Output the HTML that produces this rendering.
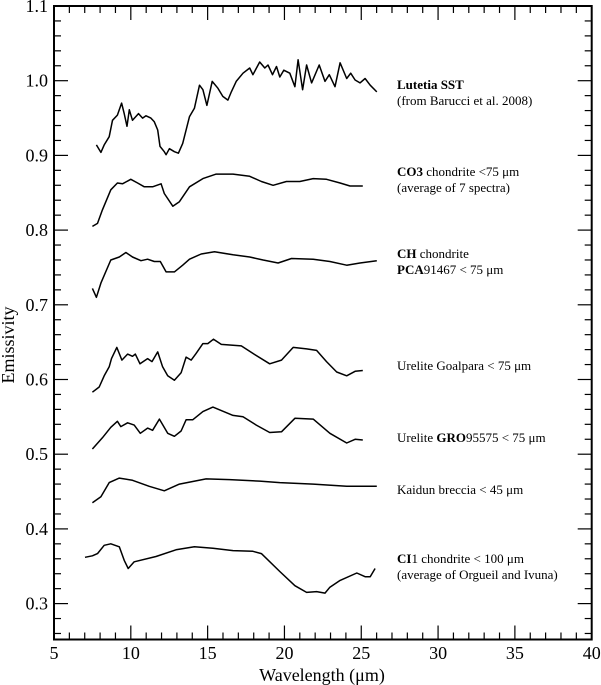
<!DOCTYPE html>
<html><head><meta charset="utf-8">
<style>
html,body{margin:0;padding:0;background:#fff;}
svg{display:block;font-family:"Liberation Serif",serif;}
</style></head>
<body>
<svg id="chart" width="601" height="685" viewBox="0 0 601 685" xmlns="http://www.w3.org/2000/svg"></svg>
<script>
const xTicks = [5,10,15,20,25,30,35,40];
const yTicks = [0.3,0.4,0.5,0.6,0.7,0.8,0.9,1.0,1.1];
const yTickLabels = ["0.3","0.4","0.5","0.6","0.7","0.8","0.9","1.0","1.1"];

const lutetiaW = [7.76,8.05,8.27,8.59,8.81,9.13,9.40,9.57,9.75,9.90,10.11,10.5,10.77,10.99,11.31,11.53,11.75,11.9,12.18,12.3,12.51,12.84,13.1,13.38,13.82,14.14,14.47,14.69,14.95,15.3,15.67,15.99,16.32,16.54,16.86,17.3,17.74,17.95,18.39,18.72,18.93,19.22,19.48,19.7,19.96,20.35,20.68,20.89,21.18,21.44,21.77,22.26,22.64,22.92,23.29,23.62,24.05,24.31,24.6,24.92,25.25,25.58,26.01];
const lutetiaE = [0.914,0.904,0.914,0.925,0.947,0.954,0.970,0.956,0.939,0.961,0.947,0.956,0.950,0.953,0.950,0.945,0.934,0.912,0.905,0.901,0.909,0.905,0.903,0.916,0.952,0.963,0.994,0.988,0.967,0.999,0.990,0.979,0.974,0.985,0.999,1.010,1.017,1.008,1.025,1.017,1.021,1.008,1.019,1.005,1.014,1.010,0.992,1.028,0.988,1.021,0.997,1.021,0.999,1.008,0.992,1.024,1.003,1.010,1.001,0.997,1.003,0.994,0.985];

const co3W = [7.5,7.83,8.15,8.7,9.13,9.46,10.0,10.44,10.88,11.42,11.97,12.18,12.73,13.16,13.82,14.69,15.56,16.65,17.74,18.5,19.26,20.13,21.0,21.87,22.74,23.62,24.27,25.1];
const co3E = [0.805,0.809,0.827,0.854,0.863,0.862,0.868,0.863,0.858,0.858,0.862,0.849,0.832,0.838,0.858,0.869,0.875,0.875,0.872,0.865,0.860,0.865,0.865,0.869,0.868,0.863,0.859,0.859];

const chW = [7.5,7.76,8.05,8.7,9.25,9.68,10.11,10.66,11.09,11.53,11.92,12.3,12.84,13.38,13.82,14.58,15.45,16.65,17.74,18.61,19.59,20.46,21.87,22.96,24.05,24.92,26.01];
const chE = [0.722,0.710,0.729,0.760,0.764,0.770,0.764,0.759,0.761,0.758,0.758,0.744,0.744,0.753,0.761,0.768,0.771,0.767,0.764,0.760,0.756,0.762,0.761,0.758,0.753,0.756,0.759];

const goalW = [7.5,7.94,8.27,8.59,8.74,9.09,9.42,9.79,10.11,10.29,10.6,11.09,11.38,11.75,12.07,12.4,12.84,13.27,13.6,13.93,14.25,14.69,15.01,15.38,15.89,17.19,17.95,19.04,19.81,20.57,21.44,22.09,22.74,23.4,24.05,24.6,25.1];
const goalE = [0.583,0.590,0.605,0.617,0.628,0.643,0.626,0.634,0.631,0.634,0.621,0.628,0.624,0.637,0.617,0.605,0.599,0.609,0.630,0.626,0.635,0.648,0.648,0.654,0.647,0.645,0.635,0.621,0.626,0.643,0.641,0.639,0.624,0.610,0.605,0.611,0.612];

const groW = [7.5,8.15,8.7,9.13,9.35,9.79,10.22,10.62,11.09,11.42,11.86,12.4,12.84,13.27,13.6,14.03,14.69,15.34,16.65,17.3,18.17,19.04,19.81,20.68,21.87,22.96,24.05,24.6,25.1];
const groE = [0.507,0.522,0.536,0.544,0.537,0.542,0.539,0.528,0.535,0.532,0.547,0.528,0.524,0.531,0.546,0.546,0.557,0.563,0.552,0.550,0.539,0.529,0.530,0.548,0.547,0.528,0.515,0.520,0.519];

const kaiW = [7.5,8.05,8.59,9.25,10.11,11.2,12.18,13.16,14.9,16.43,18.39,19.7,21.87,24.05,26.01];
const kaiE = [0.435,0.443,0.462,0.468,0.465,0.457,0.451,0.460,0.467,0.466,0.464,0.462,0.460,0.457,0.457];

const ci1W = [7.02,7.5,7.83,8.27,8.7,9.25,9.57,9.83,10.22,11.64,12.94,14.14,15.34,16.65,17.95,18.5,19.7,20.68,21.44,22.09,22.64,22.96,23.62,24.71,25.25,25.58,25.9];
const ci1E = [0.362,0.364,0.367,0.378,0.380,0.376,0.358,0.347,0.356,0.363,0.372,0.376,0.374,0.371,0.370,0.367,0.343,0.324,0.315,0.316,0.314,0.322,0.331,0.341,0.336,0.336,0.347];

const NS = "http://www.w3.org/2000/svg";
const svg = document.getElementById('chart');
const L = 54, R = 591.7, T = 6, B = 639.5;
function xs(w){ return L + (w - 5) * (R - L) / 35; }
function ys(v){ return 80.7 + (1.0 - v) * 747; }
function mk(tag, attrs){ const e = document.createElementNS(NS, tag); for (const k in attrs) e.setAttribute(k, attrs[k]); svg.appendChild(e); return e; }

// frame
const frame = mk('rect', {x:L, y:T, width:R-L, height:B-T, fill:'none', stroke:'#000', 'stroke-width':2});



// x ticks
for (let w = 5; w <= 40; w += 1) {
  const maj = (w % 5 === 0);
  const len = maj ? 14 : 7;
  const x = xs(w);
  const t1 = mk('line', {x1:x, y1:B, x2:x, y2:B-len, stroke:'#000', 'stroke-width':1.2});
  
  
  const t2 = mk('line', {x1:x, y1:T, x2:x, y2:T+len, stroke:'#000', 'stroke-width':1.2});
  
  
}
xTicks.forEach(function(w){
  const t = mk('text', {x:xs(w), y:659, 'font-size':18, 'text-anchor':'middle'});
  t.textContent = String(w);
  
  
});
// y ticks
for (let i = 0; i <= 43; i++) {
  const v = 0.26 + i * 0.02;
  const y = ys(v);
  if (y < T || y > B) continue;
  const maj = (Math.round(v * 100) % 10 === 0);
  const len = maj ? 14 : 7;
  const t1 = mk('line', {x1:L, y1:y, x2:L+len, y2:y, stroke:'#000', 'stroke-width':1.2});
  
  
  const t2 = mk('line', {x1:R, y1:y, x2:R-len, y2:y, stroke:'#000', 'stroke-width':1.2});
  
  
}
yTicks.forEach(function(v, i){
  const t = mk('text', {x:48, y:ys(v)+6, 'font-size':18, 'text-anchor':'end'});
  t.textContent = yTickLabels[i];
  
  
});

// axis titles
const xt = mk('text', {x:322, y:681, 'font-size':18, 'text-anchor':'middle'});
xt.textContent = 'Wavelength (\u03bcm)';


const yt = mk('text', {x:0, y:0, 'font-size':18, 'text-anchor':'middle', transform:'translate(14,345) rotate(-90)'});
yt.textContent = 'Emissivity';



// series
function drawSeries(W, E, name){
  let d = '';
  for (let i = 0; i < W.length; i++) d += (i ? 'L' : 'M') + xs(W[i]).toFixed(1) + ',' + ys(E[i]).toFixed(1);
  const p = mk('path', {d:d, fill:'none', stroke:'#000', 'stroke-width':1.5, 'stroke-linejoin':'round'});
  
  
}
drawSeries(lutetiaW, lutetiaE, 'lutetia-sst-line');
drawSeries(co3W, co3E, 'co3-chondrite-line');
drawSeries(chW, chE, 'ch-chondrite-line');
drawSeries(goalW, goalE, 'urelite-goalpara-line');
drawSeries(groW, groE, 'urelite-gro95575-line');
drawSeries(kaiW, kaiE, 'kaidun-breccia-line');
drawSeries(ci1W, ci1E, 'ci1-chondrite-line');

// labels
function label(y, html, name){
  const t = mk('text', {x:397, y:y, 'font-size':13});
  t.innerHTML = html;
  
  
}
label(89, '<tspan font-weight="bold">Lutetia SST</tspan>', 'lutetia-label');
label(105, '(from Barucci et al. 2008)', 'lutetia-source-label');
label(176, '<tspan font-weight="bold">CO3</tspan> chondrite &lt;75 \u03bcm', 'co3-label');
label(192, '(average of 7 spectra)', 'co3-note-label');
label(258, '<tspan font-weight="bold">CH</tspan> chondrite', 'ch-label');
label(274, '<tspan font-weight="bold">PCA</tspan>91467 &lt; 75 \u03bcm', 'ch-sample-label');
label(370, 'Urelite Goalpara &lt; 75 \u03bcm', 'goalpara-label');
label(442, 'Urelite <tspan font-weight="bold">GRO</tspan>95575 &lt; 75 \u03bcm', 'gro95575-label');
label(494, 'Kaidun breccia &lt; 45 \u03bcm', 'kaidun-label');
label(563, '<tspan font-weight="bold">CI</tspan>1 chondrite &lt; 100 \u03bcm', 'ci1-label');
label(579, '(average of Orgueil and Ivuna)', 'ci1-note-label');
</script>
</body></html>
